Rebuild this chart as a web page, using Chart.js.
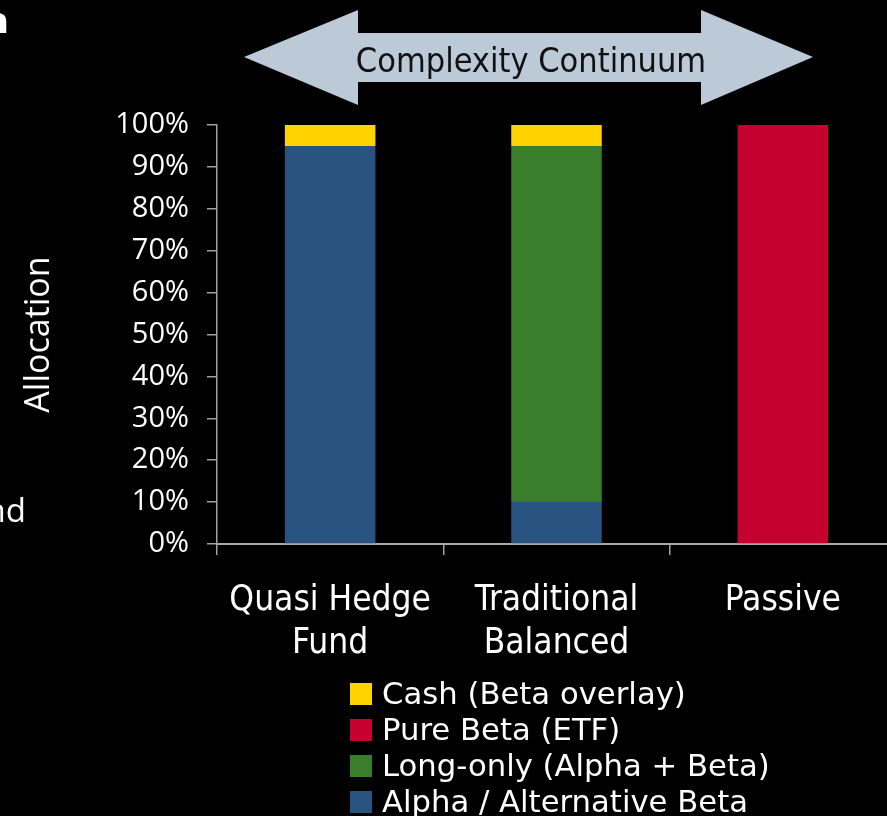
<!DOCTYPE html>
<html>
<head>
<meta charset="utf-8">
<script src="https://cdn.jsdelivr.net/npm/chart.js@4.4.1/dist/chart.umd.min.js"></script>
<style>
  html, body { margin: 0; padding: 0; background: #000; overflow: hidden; }
  canvas { display: block; }
</style>
</head>
<body>
<canvas id="allocChart" width="900" height="816"></canvas>
<script>
// Data
var categories = [['Quasi Hedge', 'Fund'], ['Traditional', 'Balanced'], ['Passive']];
var alphaAltBeta = [95, 10, 0];
var longOnly = [0, 85, 0];
var pureBeta = [0, 0, 100];
var cash = [5, 5, 0];
var yTicks = [0, 10, 20, 30, 40, 50, 60, 70, 80, 90, 100];

// Slide decorations: arrow banner, cut-off slide text, background
var slideDecor = {
    id: 'slideDecor',
    beforeDraw: function (chart) {
        var c = chart.ctx;
        c.save();
        c.fillStyle = '#000';
        c.fillRect(0, 0, chart.width, chart.height);

        // double headed arrow
        c.fillStyle = '#bccad8';
        c.beginPath();
        c.moveTo(244, 57);
        c.lineTo(358, 10);
        c.lineTo(358, 33);
        c.lineTo(701, 33);
        c.lineTo(701, 10);
        c.lineTo(813, 57);
        c.lineTo(701, 105);
        c.lineTo(701, 82);
        c.lineTo(358, 82);
        c.lineTo(358, 105);
        c.closePath();
        c.fill();

        c.fillStyle = '#111';
        c.font = '34px "DejaVu Sans Condensed", "DejaVu Sans"';
        c.textAlign = 'center';
        c.textBaseline = 'alphabetic';
        c.fillText('Complexity Continuum', 531, 72);

        // cut-off text from the slide on the left
        c.fillStyle = '#fff';
        c.textAlign = 'right';
        c.font = 'bold 36px "DejaVu Sans"';
        c.fillText('a', 9, 33);
        c.font = '33px "Open Sans"';
        c.fillText('and', 26, 522);
        c.restore();
    },
    afterDraw: function (chart) {
        // vertical legend, top item = top of stack
        var c = chart.ctx;
        var sets = chart.data.datasets.slice().reverse();
        c.save();
        c.font = '30.7px "DejaVu Sans"';
        c.textAlign = 'left';
        c.textBaseline = 'alphabetic';
        sets.forEach(function (ds, i) {
            var top = 683 + i * 36;
            c.fillStyle = ds.backgroundColor;
            c.fillRect(350, top, 22, 22);
            c.fillStyle = '#fff';
            c.fillText(ds.label, 382, top + 21);
        });
        c.restore();
    }
};

var ctx = document.getElementById('allocChart').getContext('2d');
var allocChart = new Chart(ctx, {
    type: 'bar',
    data: {
        labels: categories,
        datasets: [
            { label: 'Alpha / Alternative Beta', data: alphaAltBeta, backgroundColor: '#285380' },
            { label: 'Long-only (Alpha + Beta)', data: longOnly, backgroundColor: '#3a7d2a' },
            { label: 'Pure Beta (ETF)', data: pureBeta, backgroundColor: '#c6002f' },
            { label: 'Cash (Beta overlay)', data: cash, backgroundColor: '#ffd200' }
        ]
    },
    options: {
        responsive: false,
        animation: false,
        categoryPercentage: 1,
        barPercentage: 0.4,
        layout: {
            padding: { left: 0, right: 4, top: 125, bottom: 0 }
        },
        plugins: {
            legend: { display: false },
            tooltip: { enabled: false }
        },
        scales: {
            x: {
                stacked: true,
                afterFit: function (s) { s.height = 272; },
                grid: {
                    drawOnChartArea: false,
                    tickLength: 11,
                    color: '#a0a0a0',
                    lineWidth: 1.5
                },
                border: { color: '#a8a8a8', width: 2 },
                ticks: {
                    color: '#fff',
                    padding: 24,
                    maxRotation: 0,
                    font: { family: '"DejaVu Sans Condensed", "DejaVu Sans"', size: 35, lineHeight: 1.24 }
                }
            },
            y: {
                stacked: true,
                min: 0,
                max: 100,
                afterFit: function (s) { s.width = 217; },
                afterBuildTicks: function (s) {
                    s.ticks = yTicks.map(function (v) { return { value: v }; });
                },
                grid: {
                    drawOnChartArea: false,
                    tickLength: 10,
                    color: '#a0a0a0',
                    lineWidth: 1.5
                },
                border: { color: '#a0a0a0', width: 1.5 },
                ticks: {
                    color: '#fff',
                    padding: 18,
                    font: { family: '"Open Sans"', size: 29 },
                    callback: function (v) { return v + '%'; }
                },
                title: {
                    display: true,
                    text: 'Allocation',
                    color: '#fff',
                    padding: { top: 19, bottom: 0 },
                    font: { family: '"Open Sans"', size: 34 }
                }
            }
        }
    },
    plugins: [slideDecor]
});
</script>
</body>
</html>
